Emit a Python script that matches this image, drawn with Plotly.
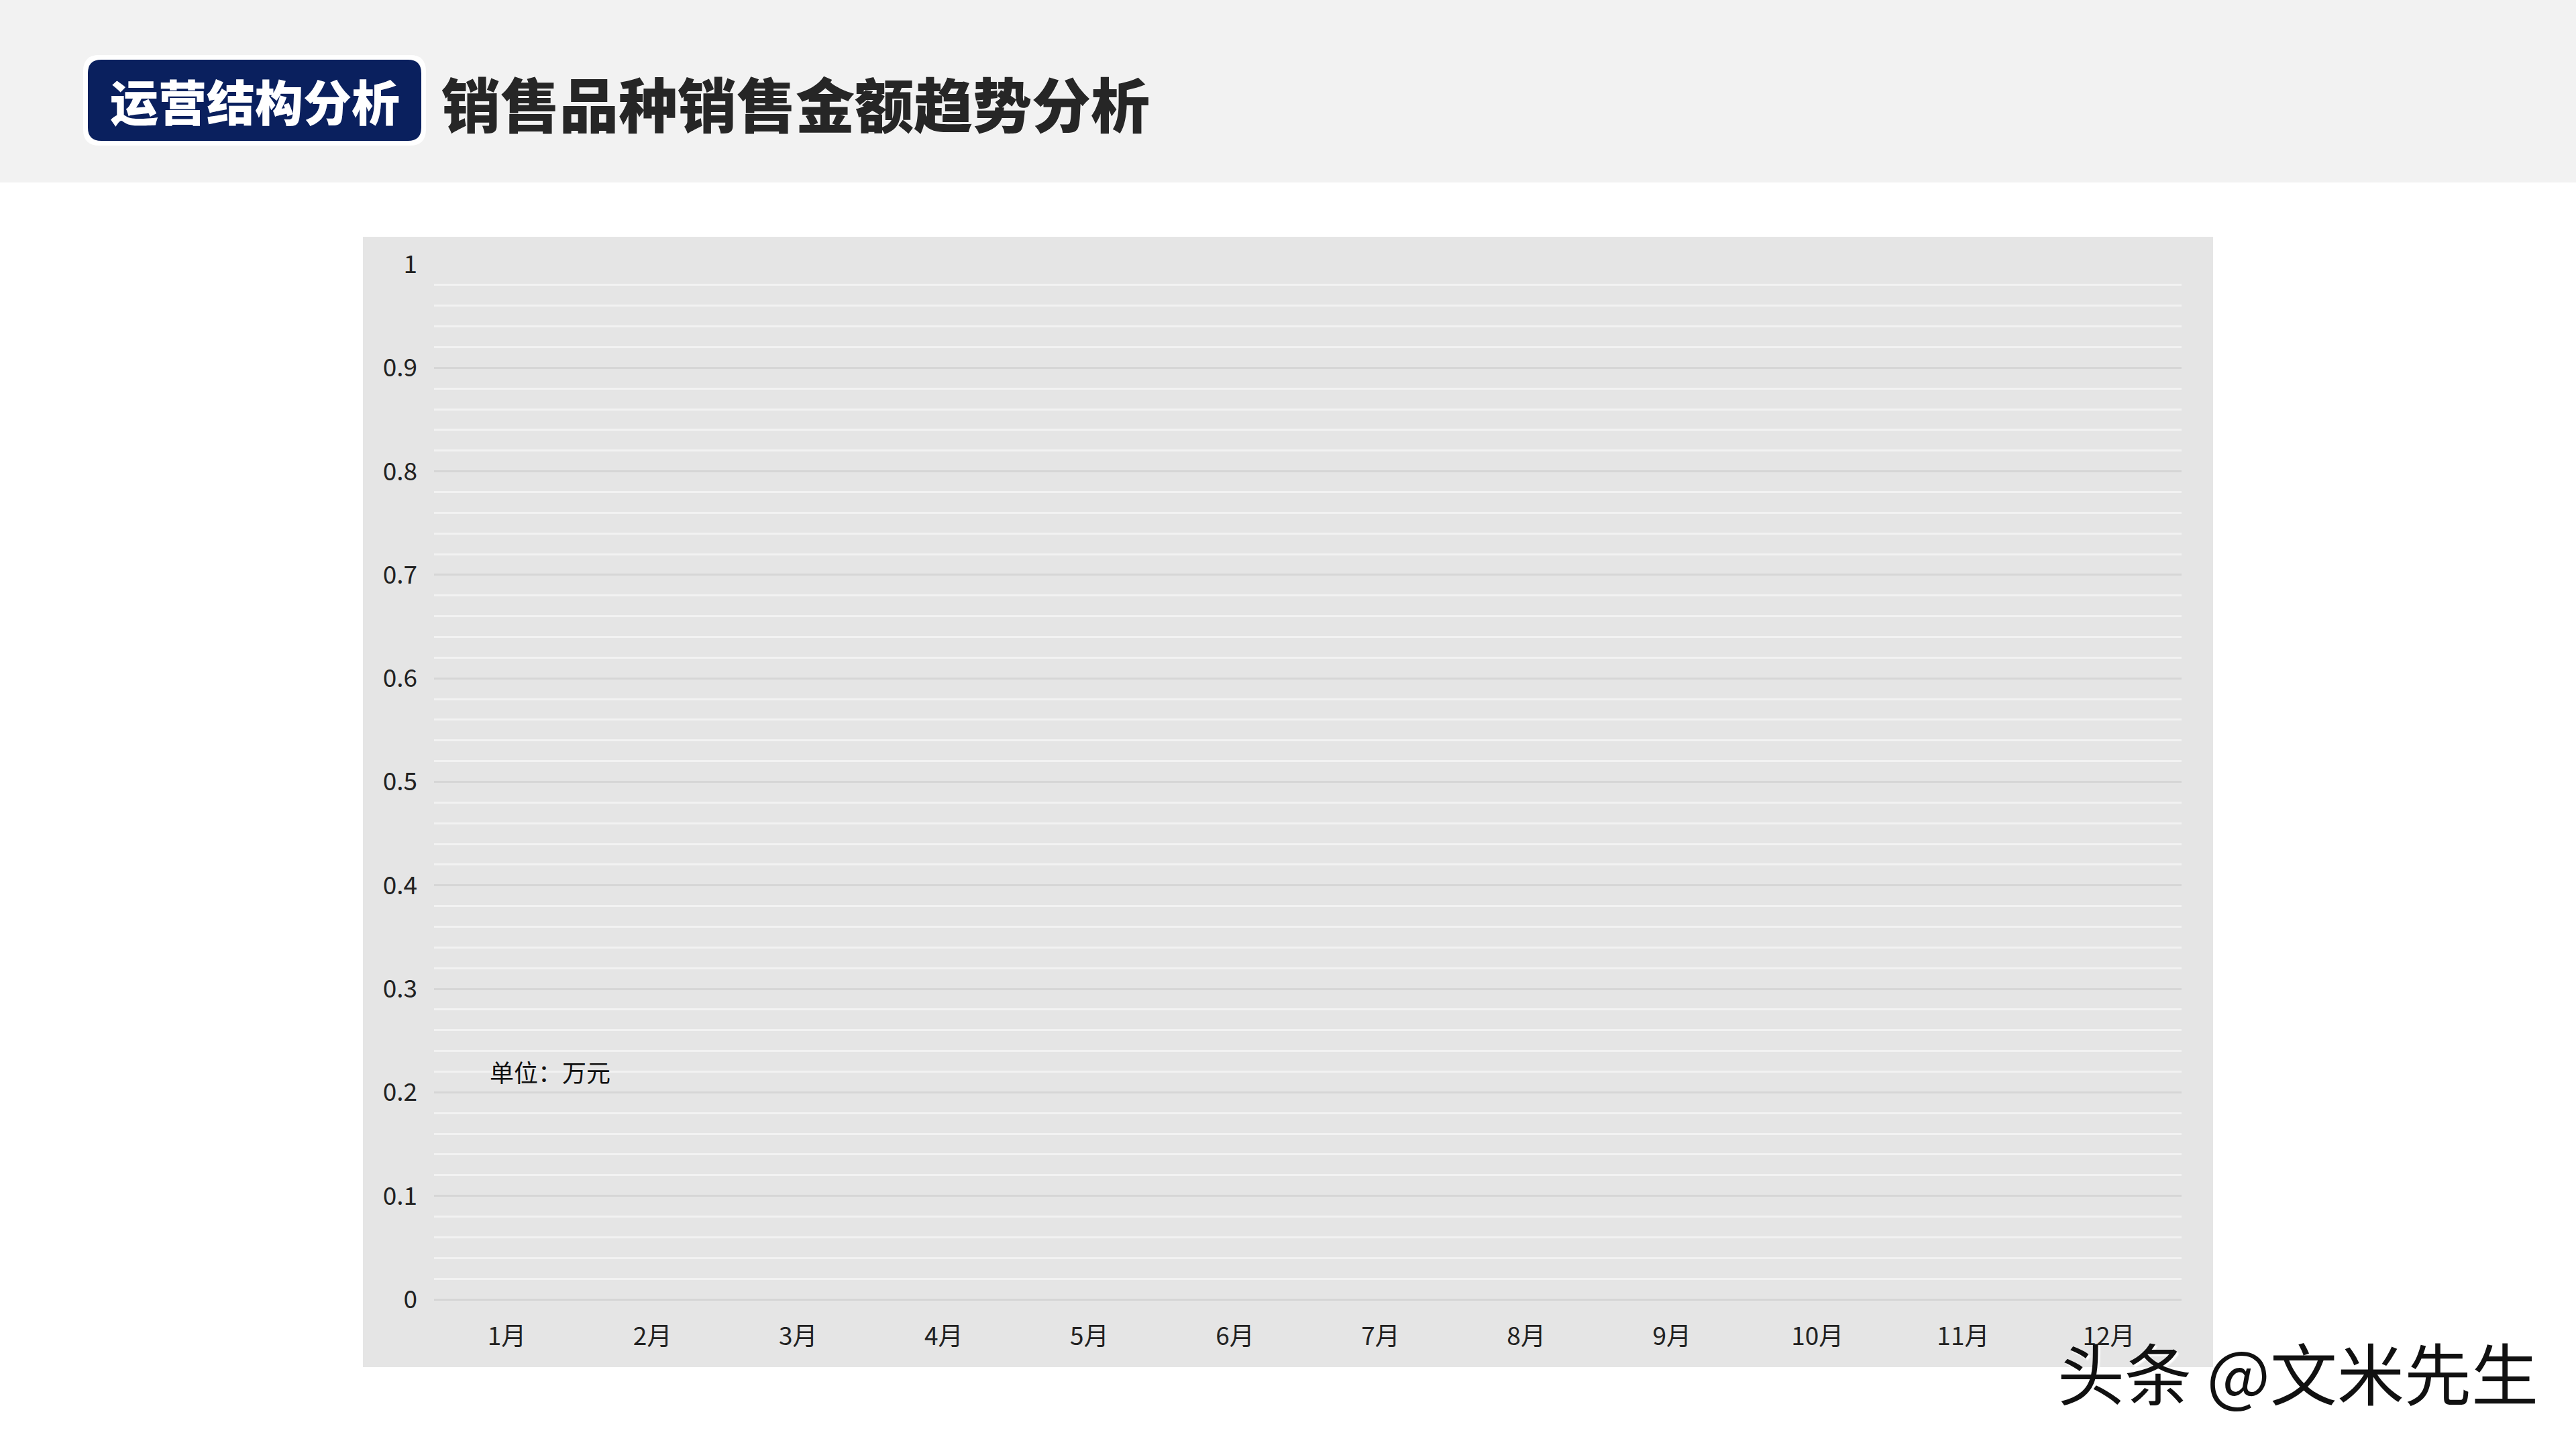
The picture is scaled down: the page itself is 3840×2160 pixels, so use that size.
import plotly.graph_objects as go

# ---- data (chart in reference is empty: no series values plotted) ----
months = ["1月", "2月", "3月", "4月", "5月", "6月", "7月", "8月", "9月", "10月", "11月", "12月"]
sales_amount = [None, None, None, None, None, None, None, None, None, None, None, None]
y_tick_vals = [0, 0.1, 0.2, 0.3, 0.4, 0.5, 0.6, 0.7, 0.8, 0.9, 1]
y_tick_text = ["0", "0.1", "0.2", "0.3", "0.4", "0.5", "0.6", "0.7", "0.8", "0.9", "1"]

badge_text = "运营结构分析"
title_text = "销售品种销售金额趋势分析"
unit_text = "单位：万元"
watermark_text = "头条 @文米先生"

W, H = 3840, 2160
FONT = "Noto Sans CJK SC"


def px(x):
    return x / W


def py(y):
    return 1 - y / H


def rounded_rect(x0, y0, x1, y1, r):
    # pixel coords -> paper coords path
    def P(x, y):
        return f"{px(x):.5f},{py(y):.5f}"
    return (f"M {P(x0 + r, y0)} L {P(x1 - r, y0)} Q {P(x1, y0)} {P(x1, y0 + r)} "
            f"L {P(x1, y1 - r)} Q {P(x1, y1)} {P(x1 - r, y1)} "
            f"L {P(x0 + r, y1)} Q {P(x0, y1)} {P(x0, y1 - r)} "
            f"L {P(x0, y0 + r)} Q {P(x0, y0)} {P(x0 + r, y0)} Z")


fig = go.Figure()
fig.add_trace(go.Scatter(
    x=months, y=sales_amount, mode="lines",
    line=dict(color="#1f3864", width=6), showlegend=False, hoverinfo="skip",
))

shapes = [
    # header band
    dict(type="rect", xref="paper", yref="paper", x0=0, x1=1, y0=py(272), y1=1,
         fillcolor="#f2f2f2", line=dict(width=0), layer="below"),
    # badge (white border)
    dict(type="path", xref="paper", yref="paper", path=rounded_rect(124, 82, 635, 217, 24),
         fillcolor="#ffffff", line=dict(width=0), layer="below"),
    dict(type="path", xref="paper", yref="paper", path=rounded_rect(131, 89, 628, 210, 20),
         fillcolor="#0a205e", line=dict(width=0), layer="below"),
    # chart box
    dict(type="rect", xref="paper", yref="paper", x0=px(541), x1=px(3299), y0=py(2038), y1=py(353),
         fillcolor="#e5e5e5", line=dict(width=0), layer="below"),
]

annotations = [
    dict(text=badge_text, x=px(380), y=py(148), xref="paper", yref="paper",
         xanchor="center", yanchor="middle", showarrow=False,
         font=dict(family=FONT, size=72, color="#ffffff", weight=900)),
    dict(text=title_text, x=px(656), y=py(151), xref="paper", yref="paper",
         xanchor="left", yanchor="middle", showarrow=False,
         font=dict(family=FONT, size=88, color="#262626", weight=900)),
    dict(text=unit_text, x=px(728), y=py(1597), xref="paper", yref="paper",
         xanchor="left", yanchor="middle", showarrow=False,
         font=dict(family=FONT, size=36, color="#111111")),
    dict(text=watermark_text, x=px(3425), y=py(2043), xref="paper", yref="paper",
         xanchor="center", yanchor="middle", showarrow=False,
         font=dict(family=FONT, size=100, color="#111111",
                   shadow="3px 3px 2px #ffffff")),
]

fig.update_layout(
    template="none",
    width=W, height=H,
    margin=dict(l=0, r=0, t=0, b=0, pad=0, autoexpand=False),
    paper_bgcolor="#ffffff",
    plot_bgcolor="rgba(0,0,0,0)",
    shapes=shapes,
    annotations=annotations,
    showlegend=False,
    xaxis=dict(
        domain=[px(647), px(3252)],
        type="category", categoryorder="array", categoryarray=months,
        tickvals=months, ticktext=months, automargin=False,
        range=[-0.5, 11.5], showgrid=False, zeroline=False, showline=False,
        ticks="", ticklabelstandoff=30,
        tickfont=dict(family=FONT, size=37, color="#222222"),
        fixedrange=True,
    ),
    yaxis=dict(
        domain=[py(1937), py(394)],
        range=[0, 1], tickvals=y_tick_vals, ticktext=y_tick_text, automargin=False,
        showgrid=True, gridcolor="#d6d6d6", gridwidth=3,
        zeroline=True, zerolinecolor="#d6d6d6", zerolinewidth=3,
        showline=False, ticks="", ticklabelstandoff=24,
        tickfont=dict(family=FONT, size=37, color="#222222"),
        minor=dict(dtick=0.02, showgrid=True, gridcolor="#f2f2f2", gridwidth=3),
        fixedrange=True,
    ),
)

fig.write_html(
    "out.html",
    config={"displayModeBar": False},
    post_script="document.body.style.margin='0';document.body.style.padding='0';"
                "document.documentElement.style.overflow='hidden';document.body.style.overflow='hidden';",
)
